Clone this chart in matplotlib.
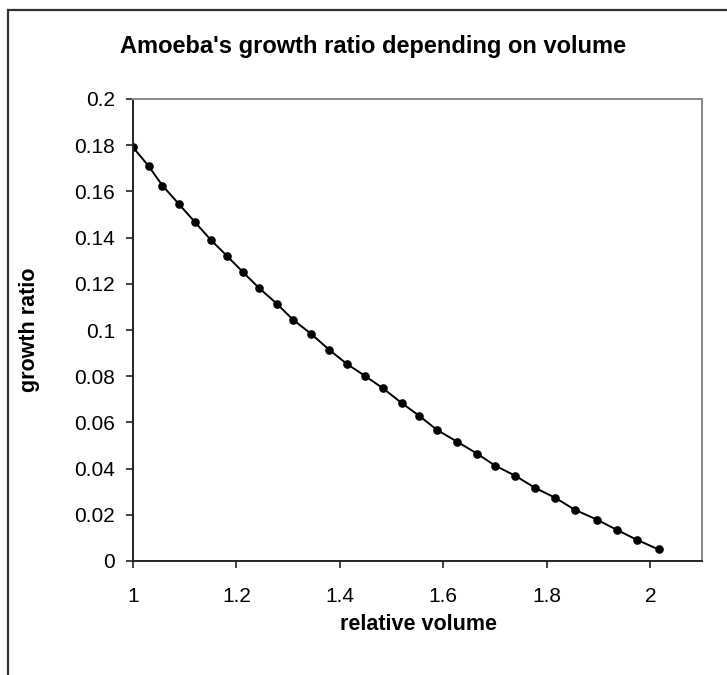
import matplotlib
matplotlib.use('Agg')
import matplotlib.pyplot as plt
from matplotlib.patches import Rectangle
from matplotlib.ticker import MultipleLocator, FuncFormatter

plt.rcParams['font.family'] = ['Liberation Sans', 'DejaVu Sans']

# Values
relative_volume = [1.000, 1.030, 1.057, 1.088, 1.119, 1.150, 1.181, 1.212,
                   1.243, 1.278, 1.309, 1.344, 1.379, 1.413, 1.448, 1.483,
                   1.520, 1.553, 1.588, 1.627, 1.665, 1.700, 1.739, 1.777,
                   1.816, 1.854, 1.897, 1.936, 1.974, 2.016]
growth_ratio = [0.1791, 0.1710, 0.1625, 0.1547, 0.1469, 0.1391, 0.1322,
                0.1252, 0.1183, 0.1114, 0.1045, 0.0984, 0.0915, 0.0854,
                0.0802, 0.0748, 0.0683, 0.0629, 0.0567, 0.0516, 0.0465,
                0.0413, 0.0369, 0.0317, 0.0274, 0.0222, 0.0179, 0.0134,
                0.0092, 0.0050]

title = "Amoeba's growth ratio depending on volume"
x_label = 'relative volume'
y_label = 'growth ratio'

W, H = 727, 675
fig = plt.figure(figsize=(W / 100, H / 100), dpi=100)

# Outer chart frame (runs off the right and bottom edges)
fig.patches.append(Rectangle((7.5 / W, -0.1), 1.2, (H - 10.5) / H + 0.1,
                             transform=fig.transFigure, fill=False,
                             edgecolor='#333333', linewidth=1.6))

# Plot area in pixel terms
left, right, top, bottom = 133, 702, 99, 561
ax = fig.add_axes([left / W, (H - bottom) / H, (right - left) / W,
                   (bottom - top) / H])

ax.plot(relative_volume, growth_ratio, color='black', linewidth=1.4,
        marker='o', markersize=5.2)

ax.set_xlim(1, 2.1)
ax.set_ylim(0, 0.2)
ax.xaxis.set_major_locator(MultipleLocator(0.2))
ax.yaxis.set_major_locator(MultipleLocator(0.02))
ax.xaxis.set_major_formatter(FuncFormatter(lambda v, p: f'{round(v, 2):g}'))
ax.yaxis.set_major_formatter(FuncFormatter(lambda v, p: f'{round(v, 3):g}'))

for side in ['top', 'right']:
    ax.spines[side].set_color('#888888')
    ax.spines[side].set_linewidth(1.4)
for side in ['left', 'bottom']:
    ax.spines[side].set_color('#222222')
    ax.spines[side].set_linewidth(1.4)

ax.tick_params(axis='y', direction='out', length=5, width=1.2,
               color='#222222', labelsize=15, pad=8)
ax.tick_params(axis='x', direction='out', length=5, width=1.2,
               color='#222222', labelsize=15, pad=14)

fig.text(373 / W, 1 - 47 / H, title, ha='center', va='center',
         fontsize=17, fontweight='bold')
fig.text(418 / W, 1 - 625 / H, x_label, ha='center', va='center',
         fontsize=15.5, fontweight='bold')
fig.text(30 / W, 1 - 330 / H, y_label, ha='center', va='center',
         fontsize=15.5, fontweight='bold', rotation=90)

plt.savefig('out.png', dpi=100)
